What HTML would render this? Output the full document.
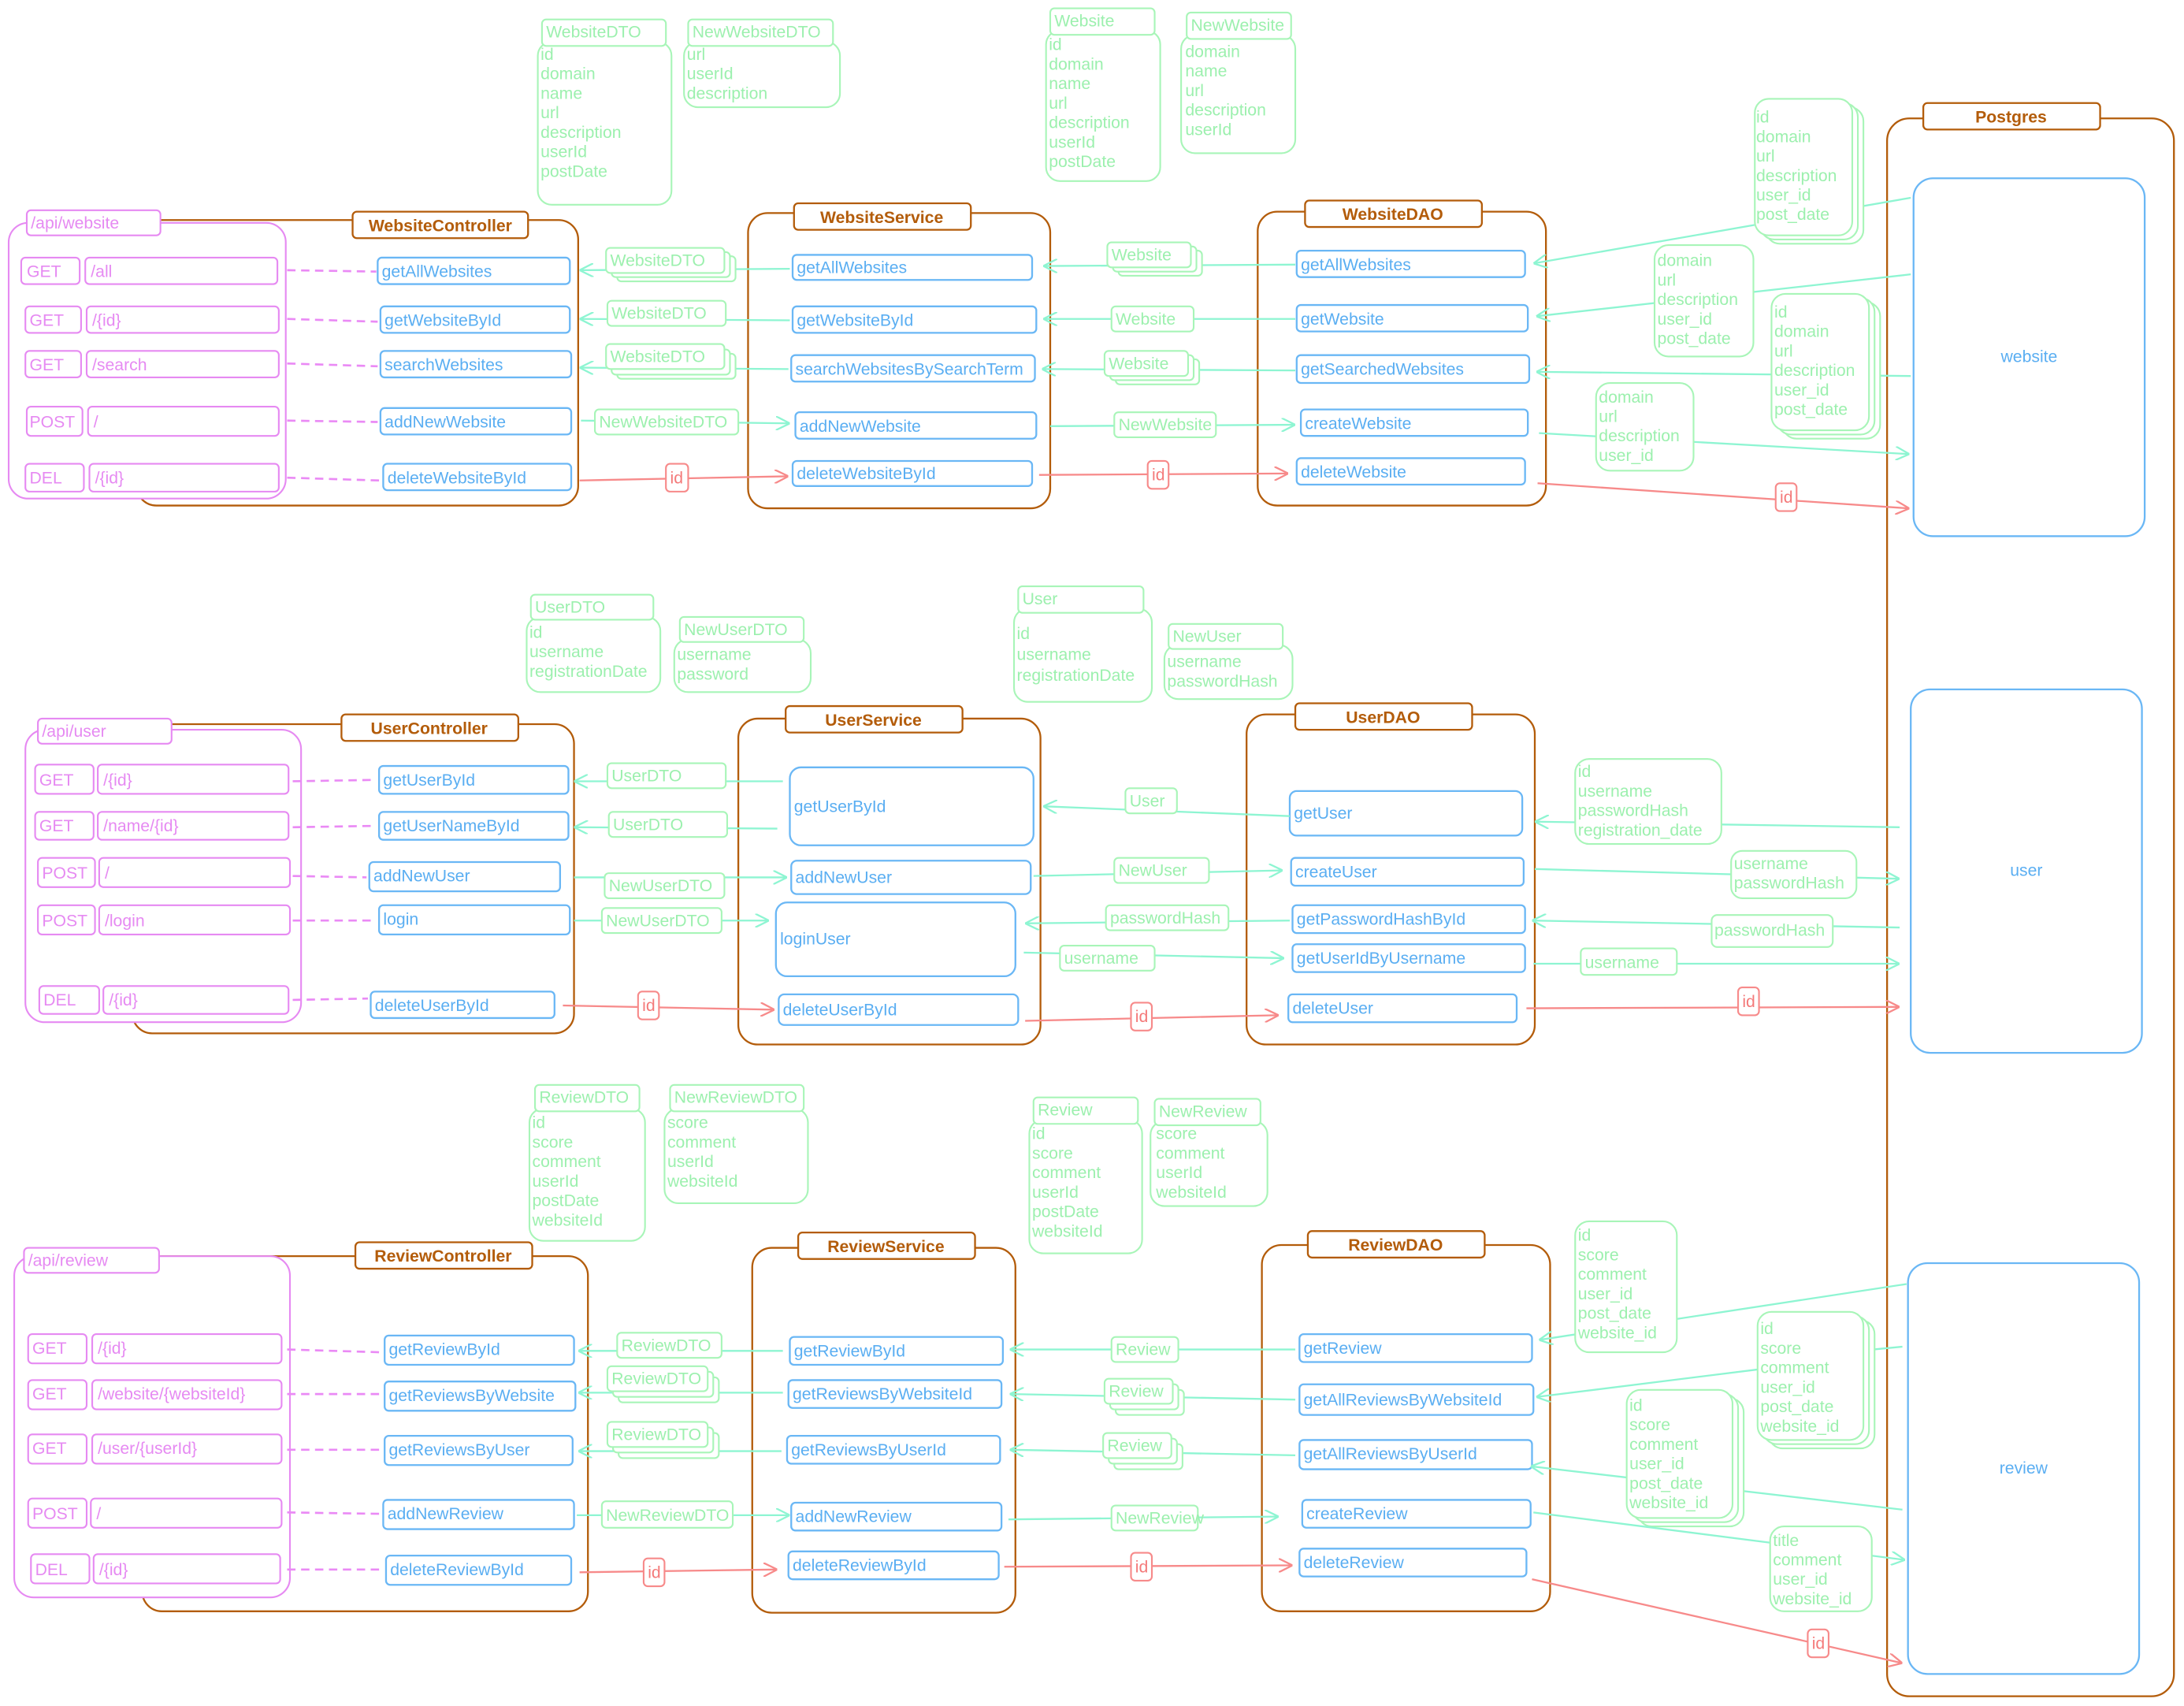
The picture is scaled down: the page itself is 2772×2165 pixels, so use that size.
<!DOCTYPE html>
<html><head><meta charset="utf-8"><style>
html,body{margin:0;padding:0;background:#fff}
svg{display:block}
text{font-family:"Liberation Sans Narrow","Liberation Sans",sans-serif;font-size:12px}
.o{stroke:#b35c0a;fill:none;stroke-width:1.3}
.ol{stroke:#b35c0a;fill:#fff;stroke-width:1.3}
.ot{fill:#b35c0a;font-weight:bold;text-anchor:middle}
.p{stroke:#e68af2;fill:none;stroke-width:1.2}
.pf{stroke:#e68af2;fill:#fff;stroke-width:1.2}
.pt{fill:#e68af2}
.b{stroke:#6ab7f5;fill:#fff;stroke-width:1.3}
.bt{fill:#5aaef2}
.g{stroke:#a8f5b8;fill:#fff;stroke-width:1.2}
.gt{fill:#9cf0ae}
.t{stroke:#8ef5d2;stroke-width:1.3;fill:none}
.r{stroke:#f78a8a;stroke-width:1.3;fill:none}
.rf{stroke:#f78a8a;fill:#fff;stroke-width:1.2}
.rt{fill:#f47a7a}
.d{stroke:#ea8af5;stroke-width:1.5;stroke-dasharray:6 4;fill:none}
</style></head><body>
<svg width="2772" height="2165" viewBox="0 0 1568 1225" xmlns="http://www.w3.org/2000/svg">
<defs>
<marker id="at" viewBox="0 0 10 10" refX="9" refY="5" markerWidth="10" markerHeight="10" markerUnits="userSpaceOnUse" orient="auto"><path d="M0,0 L10,5 L0,10" fill="none" stroke="#8ef5d2" stroke-width="1.3"/></marker>
<marker id="ar" viewBox="0 0 10 10" refX="9" refY="5" markerWidth="10" markerHeight="10" markerUnits="userSpaceOnUse" orient="auto"><path d="M0,0 L10,5 L0,10" fill="none" stroke="#f78a8a" stroke-width="1.3"/></marker>
</defs>

<!-- ============ WEBSITE DATA MODELS ============ -->
<rect class="g" x="386" y="30" width="96" height="117" rx="10"/>
<rect class="g" x="389" y="14" width="89" height="19" rx="3"/><text class="gt" x="392" y="27">WebsiteDTO</text>
<g class="gt"><text x="388" y="43">id</text><text x="388" y="57">domain</text><text x="388" y="71">name</text><text x="388" y="85">url</text><text x="388" y="99">description</text><text x="388" y="113">userId</text><text x="388" y="127">postDate</text></g>
<rect class="g" x="491" y="30" width="112" height="47" rx="10"/>
<rect class="g" x="494" y="14" width="104" height="19" rx="3"/><text class="gt" x="497" y="27">NewWebsiteDTO</text>
<g class="gt"><text x="493" y="43">url</text><text x="493" y="57">userId</text><text x="493" y="71">description</text></g>

<rect class="g" x="751" y="22" width="82" height="108" rx="10"/>
<rect class="g" x="754" y="6" width="75" height="19" rx="3"/><text class="gt" x="757" y="19">Website</text>
<g class="gt"><text x="753" y="36">id</text><text x="753" y="50">domain</text><text x="753" y="64">name</text><text x="753" y="78">url</text><text x="753" y="92">description</text><text x="753" y="106">userId</text><text x="753" y="120">postDate</text></g>
<rect class="g" x="848" y="25" width="82" height="85" rx="10"/>
<rect class="g" x="852" y="9" width="75" height="19" rx="3"/><text class="gt" x="855" y="22">NewWebsite</text>
<g class="gt"><text x="851" y="41">domain</text><text x="851" y="55">name</text><text x="851" y="69">url</text><text x="851" y="83">description</text><text x="851" y="97">userId</text></g>

<!-- ============ WEBSITE CONTROLLER ============ -->
<rect class="o" x="98" y="158" width="317" height="205" rx="14"/>
<rect class="ol" x="253" y="152" width="126" height="19" rx="3"/><text class="ot" x="316" y="166">WebsiteController</text>
<rect class="pf" x="6" y="160" width="199" height="198" rx="14"/>
<rect class="pf" x="19" y="151" width="96" height="18" rx="3"/><text class="pt" x="22" y="164">/api/website</text>
<g>
<rect class="p" x="15" y="185" width="42" height="19" rx="3"/><text class="pt" x="19" y="199">GET</text>
<rect class="p" x="61" y="185" width="138" height="19" rx="3"/><text class="pt" x="65" y="199">/all</text>
<rect class="p" x="18" y="220" width="40" height="19" rx="3"/><text class="pt" x="21" y="234">GET</text>
<rect class="p" x="62" y="220" width="138" height="19" rx="3"/><text class="pt" x="66" y="234">/{id}</text>
<rect class="p" x="18" y="252" width="40" height="19" rx="3"/><text class="pt" x="21" y="266">GET</text>
<rect class="p" x="62" y="252" width="138" height="19" rx="3"/><text class="pt" x="66" y="266">/search</text>
<rect class="p" x="19" y="292" width="40" height="21" rx="3"/><text class="pt" x="21" y="307">POST</text>
<rect class="p" x="63" y="292" width="137" height="21" rx="3"/><text class="pt" x="67" y="307">/</text>
<rect class="p" x="18" y="333" width="42" height="20" rx="3"/><text class="pt" x="21" y="347">DEL</text>
<rect class="p" x="64" y="333" width="136" height="20" rx="3"/><text class="pt" x="68" y="347">/{id}</text>
</g>
<path class="d" d="M206,194 L270,195 M206,229 L271,231 M206,261 L271,263 M206,302 L271,303 M206,343 L272,345"/>
<rect class="b" x="271" y="185" width="138" height="19" rx="3"/><text class="bt" x="274" y="199">getAllWebsites</text>
<rect class="b" x="273" y="220" width="136" height="19" rx="3"/><text class="bt" x="276" y="234">getWebsiteById</text>
<rect class="b" x="273" y="252" width="137" height="19" rx="3"/><text class="bt" x="276" y="266">searchWebsites</text>
<rect class="b" x="273" y="293" width="137" height="19" rx="3"/><text class="bt" x="276" y="307">addNewWebsite</text>
<rect class="b" x="275" y="333" width="135" height="19" rx="3"/><text class="bt" x="278" y="347">deleteWebsiteById</text>

<!-- ============ WEBSITE SERVICE ============ -->
<rect class="o" x="537" y="153" width="217" height="212" rx="14"/>
<rect class="ol" x="570" y="146" width="127" height="19" rx="3"/><text class="ot" x="633" y="160">WebsiteService</text>
<rect class="b" x="569" y="183" width="172" height="18" rx="3"/><text class="bt" x="572" y="196">getAllWebsites</text>
<rect class="b" x="569" y="220" width="175" height="19" rx="3"/><text class="bt" x="572" y="234">getWebsiteById</text>
<rect class="b" x="568" y="255" width="175" height="19" rx="3"/><text class="bt" x="571" y="269">searchWebsitesBySearchTerm</text>
<rect class="b" x="571" y="296" width="173" height="19" rx="3"/><text class="bt" x="574" y="310">addNewWebsite</text>
<rect class="b" x="569" y="331" width="172" height="18" rx="3"/><text class="bt" x="572" y="344">deleteWebsiteById</text>

<path class="t" d="M567,193 L417,194" marker-end="url(#at)"/>
<rect class="g" x="443" y="184" width="85" height="18" rx="3"/><rect class="g" x="439" y="181" width="85" height="18" rx="3"/>
<rect class="g" x="435" y="178" width="85" height="18" rx="3"/><text class="gt" x="438" y="191">WebsiteDTO</text>
<path class="t" d="M567,230 L417,229" marker-end="url(#at)"/>
<rect class="g" x="436" y="216" width="85" height="18" rx="3"/><text class="gt" x="439" y="229">WebsiteDTO</text>
<path class="t" d="M566,265 L417,264" marker-end="url(#at)"/>
<rect class="g" x="443" y="254" width="85" height="18" rx="3"/><rect class="g" x="439" y="251" width="85" height="18" rx="3"/>
<rect class="g" x="435" y="247" width="85" height="18" rx="3"/><text class="gt" x="438" y="260">WebsiteDTO</text>
<path class="t" d="M417,302 L566,304" marker-end="url(#at)"/>
<rect class="g" x="427" y="294" width="103" height="18" rx="3"/><text class="gt" x="430" y="307">NewWebsiteDTO</text>
<path class="r" d="M416,345 L565,342" marker-end="url(#ar)"/>
<rect class="rf" x="478" y="333" width="16" height="20" rx="3"/><text class="rt" x="481" y="347">id</text>

<!-- ============ WEBSITE DAO ============ -->
<rect class="o" x="903" y="152" width="207" height="211" rx="14"/>
<rect class="ol" x="937" y="144" width="127" height="19" rx="3"/><text class="ot" x="1000" y="158">WebsiteDAO</text>
<rect class="b" x="931" y="180" width="164" height="19" rx="3"/><text class="bt" x="934" y="194">getAllWebsites</text>
<rect class="b" x="931" y="219" width="166" height="19" rx="3"/><text class="bt" x="934" y="233">getWebsite</text>
<rect class="b" x="931" y="255" width="167" height="20" rx="3"/><text class="bt" x="934" y="269">getSearchedWebsites</text>
<rect class="b" x="934" y="294" width="163" height="19" rx="3"/><text class="bt" x="937" y="308">createWebsite</text>
<rect class="b" x="931" y="329" width="164" height="19" rx="3"/><text class="bt" x="934" y="343">deleteWebsite</text>

<path class="t" d="M930,190 L750,191" marker-end="url(#at)"/>
<rect class="g" x="803" y="180" width="60" height="18" rx="3"/><rect class="g" x="799" y="177" width="60" height="18" rx="3"/>
<rect class="g" x="795" y="174" width="60" height="18" rx="3"/><text class="gt" x="798" y="187">Website</text>
<path class="t" d="M930,229 L750,229" marker-end="url(#at)"/>
<rect class="g" x="798" y="220" width="59" height="18" rx="3"/><text class="gt" x="801" y="233">Website</text>
<path class="t" d="M930,266 L749,265" marker-end="url(#at)"/>
<rect class="g" x="801" y="258" width="60" height="18" rx="3"/><rect class="g" x="797" y="255" width="60" height="18" rx="3"/>
<rect class="g" x="793" y="252" width="60" height="18" rx="3"/><text class="gt" x="796" y="265">Website</text>
<path class="t" d="M754,306 L929,305" marker-end="url(#at)"/>
<rect class="g" x="800" y="296" width="73" height="18" rx="3"/><text class="gt" x="803" y="309">NewWebsite</text>
<path class="r" d="M746,341 L924,340" marker-end="url(#ar)"/>
<rect class="rf" x="824" y="331" width="15" height="20" rx="3"/><text class="rt" x="827" y="345">id</text>

<!-- ============ POSTGRES ============ -->
<rect class="o" x="1355" y="85" width="206" height="1133" rx="16"/>
<rect class="ol" x="1381" y="74" width="127" height="19" rx="3"/><text class="ot" x="1444" y="88">Postgres</text>
<rect class="b" x="1374" y="128" width="166" height="257" rx="14"/><text class="bt" x="1457" y="260" text-anchor="middle">website</text>
<rect class="b" x="1372" y="495" width="166" height="261" rx="14"/><text class="bt" x="1455" y="629" text-anchor="middle">user</text>
<rect class="b" x="1370" y="907" width="166" height="295" rx="14"/><text class="bt" x="1453" y="1058" text-anchor="middle">review</text>

<!-- website db links -->
<path class="t" d="M1372,142 L1102,189" marker-end="url(#at)"/>
<rect class="g" x="1268" y="77" width="70" height="98" rx="10"/><rect class="g" x="1264" y="74" width="70" height="98" rx="10"/>
<rect class="g" x="1260" y="71" width="70" height="98" rx="10"/>
<g class="gt"><text x="1261" y="88">id</text><text x="1261" y="102">domain</text><text x="1261" y="116">url</text><text x="1261" y="130">description</text><text x="1261" y="144">user_id</text><text x="1261" y="158">post_date</text></g>
<path class="t" d="M1372,197 L1104,227" marker-end="url(#at)"/>
<rect class="g" x="1188" y="176" width="71" height="80" rx="10"/>
<g class="gt"><text x="1190" y="191">domain</text><text x="1190" y="205">url</text><text x="1190" y="219">description</text><text x="1190" y="233">user_id</text><text x="1190" y="247">post_date</text></g>
<path class="t" d="M1372,270 L1104,267" marker-end="url(#at)"/>
<rect class="g" x="1280" y="217" width="70" height="98" rx="10"/><rect class="g" x="1276" y="214" width="70" height="98" rx="10"/>
<rect class="g" x="1272" y="211" width="70" height="98" rx="10"/>
<g class="gt"><text x="1274" y="228">id</text><text x="1274" y="242">domain</text><text x="1274" y="256">url</text><text x="1274" y="270">description</text><text x="1274" y="284">user_id</text><text x="1274" y="298">post_date</text></g>
<path class="t" d="M1105,311 L1370,326" marker-end="url(#at)"/>
<rect class="g" x="1146" y="275" width="70" height="63" rx="10"/>
<g class="gt"><text x="1148" y="289">domain</text><text x="1148" y="303">url</text><text x="1148" y="317">description</text><text x="1148" y="331">user_id</text></g>
<path class="r" d="M1104,347 L1370,365" marker-end="url(#ar)"/>
<rect class="rf" x="1275" y="347" width="15" height="20" rx="3"/><text class="rt" x="1278" y="361">id</text>

<!-- ============ USER DATA MODELS ============ -->
<rect class="g" x="378" y="443" width="96" height="54" rx="10"/>
<rect class="g" x="381" y="427" width="88" height="18" rx="3"/><text class="gt" x="384" y="440">UserDTO</text>
<g class="gt"><text x="380" y="458">id</text><text x="380" y="472">username</text><text x="380" y="486">registrationDate</text></g>
<rect class="g" x="484" y="459" width="98" height="38" rx="10"/>
<rect class="g" x="488" y="443" width="89" height="18" rx="3"/><text class="gt" x="491" y="456">NewUserDTO</text>
<g class="gt"><text x="486" y="474">username</text><text x="486" y="488">password</text></g>
<rect class="g" x="728" y="437" width="99" height="67" rx="10"/>
<rect class="g" x="731" y="421" width="90" height="19" rx="3"/><text class="gt" x="734" y="434">User</text>
<g class="gt"><text x="730" y="459">id</text><text x="730" y="474">username</text><text x="730" y="489">registrationDate</text></g>
<rect class="g" x="836" y="463" width="92" height="39" rx="10"/>
<rect class="g" x="839" y="448" width="82" height="18" rx="3"/><text class="gt" x="842" y="461">NewUser</text>
<g class="gt"><text x="838" y="479">username</text><text x="838" y="493">passwordHash</text></g>

<!-- ============ USER CONTROLLER ============ -->
<rect class="o" x="95" y="520" width="317" height="222" rx="14"/>
<rect class="ol" x="245" y="513" width="127" height="19" rx="3"/><text class="ot" x="308" y="527">UserController</text>
<rect class="pf" x="18" y="524" width="198" height="210" rx="14"/>
<rect class="pf" x="27" y="516" width="96" height="18" rx="3"/><text class="pt" x="30" y="529">/api/user</text>
<rect class="p" x="25" y="549" width="42" height="21" rx="3"/><text class="pt" x="28" y="564">GET</text>
<rect class="p" x="70" y="549" width="137" height="21" rx="3"/><text class="pt" x="74" y="564">/{id}</text>
<rect class="p" x="25" y="583" width="42" height="20" rx="3"/><text class="pt" x="28" y="597">GET</text>
<rect class="p" x="70" y="583" width="137" height="20" rx="3"/><text class="pt" x="74" y="597">/name/{id}</text>
<rect class="p" x="27" y="616" width="41" height="21" rx="3"/><text class="pt" x="30" y="631">POST</text>
<rect class="p" x="71" y="616" width="137" height="21" rx="3"/><text class="pt" x="75" y="631">/</text>
<rect class="p" x="27" y="650" width="41" height="21" rx="3"/><text class="pt" x="30" y="665">POST</text>
<rect class="p" x="71" y="650" width="137" height="21" rx="3"/><text class="pt" x="75" y="665">/login</text>
<rect class="p" x="28" y="708" width="43" height="20" rx="3"/><text class="pt" x="31" y="722">DEL</text>
<rect class="p" x="74" y="708" width="133" height="20" rx="3"/><text class="pt" x="78" y="722">/{id}</text>
<path class="d" d="M210,561 L270,560 M210,594 L270,593 M210,629 L263,630 M210,661 L270,661 M210,718 L264,717"/>
<rect class="b" x="272" y="550" width="136" height="20" rx="3"/><text class="bt" x="275" y="564">getUserById</text>
<rect class="b" x="272" y="583" width="136" height="20" rx="3"/><text class="bt" x="275" y="597">getUserNameById</text>
<rect class="b" x="265" y="619" width="137" height="21" rx="3"/><text class="bt" x="268" y="633">addNewUser</text>
<rect class="b" x="272" y="650" width="137" height="21" rx="3"/><text class="bt" x="275" y="664">login</text>
<rect class="b" x="266" y="712" width="132" height="19" rx="3"/><text class="bt" x="269" y="726">deleteUserById</text>

<!-- ============ USER SERVICE ============ -->
<rect class="o" x="530" y="516" width="217" height="234" rx="14"/>
<rect class="ol" x="564" y="507" width="127" height="19" rx="3"/><text class="ot" x="627" y="521">UserService</text>
<rect class="b" x="567" y="551" width="175" height="56" rx="8"/><text class="bt" x="570" y="583">getUserById</text>
<rect class="b" x="568" y="618" width="172" height="24" rx="4"/><text class="bt" x="571" y="634">addNewUser</text>
<rect class="b" x="557" y="648" width="172" height="53" rx="8"/><text class="bt" x="560" y="678">loginUser</text>
<rect class="b" x="559" y="714" width="172" height="22" rx="4"/><text class="bt" x="562" y="729">deleteUserById</text>

<path class="t" d="M562,561 L413,561" marker-end="url(#at)"/>
<rect class="g" x="436" y="548" width="85" height="18" rx="3"/><text class="gt" x="439" y="561">UserDTO</text>
<path class="t" d="M558,595 L413,594" marker-end="url(#at)"/>
<rect class="g" x="437" y="583" width="85" height="18" rx="3"/><text class="gt" x="440" y="596">UserDTO</text>
<path class="t" d="M412,630 L564,630" marker-end="url(#at)"/>
<rect class="g" x="434" y="627" width="86" height="18" rx="3"/><text class="gt" x="437" y="640">NewUserDTO</text>
<path class="t" d="M412,661 L551,661" marker-end="url(#at)"/>
<rect class="g" x="432" y="652" width="86" height="18" rx="3"/><text class="gt" x="435" y="665">NewUserDTO</text>
<path class="r" d="M404,722 L555,725" marker-end="url(#ar)"/>
<rect class="rf" x="458" y="712" width="15" height="20" rx="3"/><text class="rt" x="461" y="726">id</text>

<!-- ============ USER DAO ============ -->
<rect class="o" x="895" y="513" width="207" height="237" rx="14"/>
<rect class="ol" x="930" y="505" width="127" height="19" rx="3"/><text class="ot" x="993" y="519">UserDAO</text>
<rect class="b" x="926" y="568" width="167" height="32" rx="5"/><text class="bt" x="929" y="588">getUser</text>
<rect class="b" x="927" y="616" width="167" height="20" rx="3"/><text class="bt" x="930" y="630">createUser</text>
<rect class="b" x="928" y="650" width="167" height="20" rx="3"/><text class="bt" x="931" y="664">getPasswordHashById</text>
<rect class="b" x="928" y="678" width="167" height="20" rx="3"/><text class="bt" x="931" y="692">getUserIdByUsername</text>
<rect class="b" x="925" y="714" width="164" height="20" rx="3"/><text class="bt" x="928" y="728">deleteUser</text>

<path class="t" d="M926,586 L750,579" marker-end="url(#at)"/>
<rect class="g" x="808" y="566" width="37" height="18" rx="3"/><text class="gt" x="811" y="579">User</text>
<path class="t" d="M742,629 L920,625" marker-end="url(#at)"/>
<rect class="g" x="800" y="616" width="68" height="18" rx="3"/><text class="gt" x="803" y="629">NewUser</text>
<path class="t" d="M926,661 L737,663" marker-end="url(#at)"/>
<rect class="g" x="794" y="650" width="88" height="18" rx="3"/><text class="gt" x="797" y="663">passwordHash</text>
<path class="t" d="M735,684 L921,688" marker-end="url(#at)"/>
<rect class="g" x="761" y="679" width="68" height="18" rx="3"/><text class="gt" x="764" y="692">username</text>
<path class="r" d="M736,733 L917,729" marker-end="url(#ar)"/>
<rect class="rf" x="812" y="720" width="15" height="20" rx="3"/><text class="rt" x="815" y="734">id</text>

<!-- user db links -->
<path class="t" d="M1364,594 L1103,590" marker-end="url(#at)"/>
<rect class="g" x="1131" y="545" width="105" height="61" rx="10"/>
<g class="gt"><text x="1133" y="558">id</text><text x="1133" y="572">username</text><text x="1133" y="586">passwordHash</text><text x="1133" y="600">registration_date</text></g>
<path class="t" d="M1102,624 L1363,631" marker-end="url(#at)"/>
<rect class="g" x="1243" y="611" width="90" height="34" rx="8"/>
<g class="gt"><text x="1245" y="624">username</text><text x="1245" y="638">passwordHash</text></g>
<path class="t" d="M1364,666 L1101,661" marker-end="url(#at)"/>
<rect class="g" x="1229" y="657" width="87" height="23" rx="4"/><text class="gt" x="1231" y="672">passwordHash</text>
<path class="t" d="M1101,692 L1363,692" marker-end="url(#at)"/>
<rect class="g" x="1135" y="681" width="69" height="19" rx="3"/><text class="gt" x="1138" y="695">username</text>
<path class="r" d="M1096,724 L1363,723" marker-end="url(#ar)"/>
<rect class="rf" x="1248" y="709" width="15" height="20" rx="3"/><text class="rt" x="1251" y="723">id</text>

<!-- ============ REVIEW DATA MODELS ============ -->
<rect class="g" x="380" y="796" width="83" height="95" rx="10"/>
<rect class="g" x="384" y="779" width="75" height="19" rx="3"/><text class="gt" x="387" y="792">ReviewDTO</text>
<g class="gt"><text x="382" y="810">id</text><text x="382" y="824">score</text><text x="382" y="838">comment</text><text x="382" y="852">userId</text><text x="382" y="866">postDate</text><text x="382" y="880">websiteId</text></g>
<rect class="g" x="477" y="796" width="103" height="68" rx="10"/>
<rect class="g" x="481" y="779" width="96" height="19" rx="3"/><text class="gt" x="484" y="792">NewReviewDTO</text>
<g class="gt"><text x="479" y="810">score</text><text x="479" y="824">comment</text><text x="479" y="838">userId</text><text x="479" y="852">websiteId</text></g>
<rect class="g" x="739" y="804" width="81" height="96" rx="10"/>
<rect class="g" x="742" y="788" width="75" height="19" rx="3"/><text class="gt" x="745" y="801">Review</text>
<g class="gt"><text x="741" y="818">id</text><text x="741" y="832">score</text><text x="741" y="846">comment</text><text x="741" y="860">userId</text><text x="741" y="874">postDate</text><text x="741" y="888">websiteId</text></g>
<rect class="g" x="826" y="805" width="84" height="61" rx="10"/>
<rect class="g" x="829" y="789" width="76" height="19" rx="3"/><text class="gt" x="832" y="802">NewReview</text>
<g class="gt"><text x="830" y="818">score</text><text x="830" y="832">comment</text><text x="830" y="846">userId</text><text x="830" y="860">websiteId</text></g>

<!-- ============ REVIEW CONTROLLER ============ -->
<rect class="o" x="102" y="902" width="320" height="255" rx="14"/>
<rect class="ol" x="255" y="892" width="127" height="19" rx="3"/><text class="ot" x="318" y="906">ReviewController</text>
<rect class="pf" x="10" y="902" width="198" height="245" rx="14"/>
<rect class="pf" x="17" y="896" width="97" height="18" rx="3"/><text class="pt" x="20" y="909">/api/review</text>
<rect class="p" x="20" y="958" width="42" height="21" rx="3"/><text class="pt" x="23" y="972">GET</text>
<rect class="p" x="66" y="958" width="136" height="21" rx="3"/><text class="pt" x="70" y="972">/{id}</text>
<rect class="p" x="20" y="991" width="42" height="21" rx="3"/><text class="pt" x="23" y="1005">GET</text>
<rect class="p" x="66" y="991" width="136" height="21" rx="3"/><text class="pt" x="70" y="1005">/website/{websiteId}</text>
<rect class="p" x="20" y="1030" width="42" height="21" rx="3"/><text class="pt" x="23" y="1044">GET</text>
<rect class="p" x="66" y="1030" width="136" height="21" rx="3"/><text class="pt" x="70" y="1044">/user/{userId}</text>
<rect class="p" x="20" y="1076" width="42" height="21" rx="3"/><text class="pt" x="23" y="1091">POST</text>
<rect class="p" x="65" y="1076" width="137" height="21" rx="3"/><text class="pt" x="69" y="1091">/</text>
<rect class="p" x="22" y="1116" width="42" height="21" rx="3"/><text class="pt" x="25" y="1131">DEL</text>
<rect class="p" x="67" y="1116" width="134" height="21" rx="3"/><text class="pt" x="71" y="1131">/{id}</text>
<path class="d" d="M206,969 L273,971 M206,1001 L274,1001 M206,1041 L274,1041 M206,1086 L273,1087 M206,1127 L275,1127"/>
<rect class="b" x="276" y="959" width="136" height="21" rx="3"/><text class="bt" x="279" y="973">getReviewById</text>
<rect class="b" x="276" y="992" width="137" height="21" rx="3"/><text class="bt" x="279" y="1006">getReviewsByWebsite</text>
<rect class="b" x="276" y="1031" width="135" height="21" rx="3"/><text class="bt" x="279" y="1045">getReviewsByUser</text>
<rect class="b" x="275" y="1077" width="137" height="21" rx="3"/><text class="bt" x="278" y="1091">addNewReview</text>
<rect class="b" x="277" y="1117" width="133" height="21" rx="3"/><text class="bt" x="280" y="1131">deleteReviewById</text>

<!-- ============ REVIEW SERVICE ============ -->
<rect class="o" x="540" y="896" width="189" height="262" rx="14"/>
<rect class="ol" x="573" y="885" width="127" height="19" rx="3"/><text class="ot" x="636" y="899">ReviewService</text>
<rect class="b" x="567" y="960" width="153" height="20" rx="3"/><text class="bt" x="570" y="974">getReviewById</text>
<rect class="b" x="566" y="991" width="153" height="20" rx="3"/><text class="bt" x="569" y="1005">getReviewsByWebsiteId</text>
<rect class="b" x="565" y="1031" width="153" height="20" rx="3"/><text class="bt" x="568" y="1045">getReviewsByUserId</text>
<rect class="b" x="568" y="1079" width="151" height="20" rx="3"/><text class="bt" x="571" y="1093">addNewReview</text>
<rect class="b" x="566" y="1114" width="151" height="20" rx="3"/><text class="bt" x="569" y="1128">deleteReviewById</text>

<path class="t" d="M562,970 L416,970" marker-end="url(#at)"/>
<rect class="g" x="443" y="957" width="75" height="18" rx="3"/><text class="gt" x="446" y="970">ReviewDTO</text>
<path class="t" d="M562,1000 L416,1000" marker-end="url(#at)"/>
<rect class="g" x="444" y="989" width="72" height="18" rx="3"/><rect class="g" x="440" y="985" width="72" height="18" rx="3"/>
<rect class="g" x="436" y="981" width="72" height="18" rx="3"/><text class="gt" x="439" y="994">ReviewDTO</text>
<path class="t" d="M561,1042 L416,1042" marker-end="url(#at)"/>
<rect class="g" x="444" y="1029" width="72" height="18" rx="3"/><rect class="g" x="440" y="1025" width="72" height="18" rx="3"/>
<rect class="g" x="436" y="1021" width="72" height="18" rx="3"/><text class="gt" x="439" y="1034">ReviewDTO</text>
<path class="t" d="M414,1088 L566,1088" marker-end="url(#at)"/>
<rect class="g" x="432" y="1078" width="94" height="19" rx="3"/><text class="gt" x="435" y="1092">NewReviewDTO</text>
<path class="r" d="M416,1129 L557,1127" marker-end="url(#ar)"/>
<rect class="rf" x="462" y="1119" width="15" height="20" rx="3"/><text class="rt" x="465" y="1133">id</text>

<!-- ============ REVIEW DAO ============ -->
<rect class="o" x="906" y="894" width="207" height="263" rx="14"/>
<rect class="ol" x="939" y="884" width="127" height="19" rx="3"/><text class="ot" x="1002" y="898">ReviewDAO</text>
<rect class="b" x="933" y="958" width="167" height="20" rx="3"/><text class="bt" x="936" y="972">getReview</text>
<rect class="b" x="933" y="994" width="168" height="22" rx="3"/><text class="bt" x="936" y="1009">getAllReviewsByWebsiteId</text>
<rect class="b" x="933" y="1034" width="167" height="21" rx="3"/><text class="bt" x="936" y="1048">getAllReviewsByUserId</text>
<rect class="b" x="935" y="1077" width="164" height="20" rx="3"/><text class="bt" x="938" y="1091">createReview</text>
<rect class="b" x="933" y="1112" width="163" height="20" rx="3"/><text class="bt" x="936" y="1126">deleteReview</text>

<path class="t" d="M930,969 L726,969" marker-end="url(#at)"/>
<rect class="g" x="798" y="960" width="48" height="18" rx="3"/><text class="gt" x="801" y="973">Review</text>
<path class="t" d="M930,1005 L726,1001" marker-end="url(#at)"/>
<rect class="g" x="801" y="998" width="49" height="18" rx="3"/><rect class="g" x="797" y="994" width="49" height="18" rx="3"/>
<rect class="g" x="793" y="990" width="49" height="18" rx="3"/><text class="gt" x="796" y="1003">Review</text>
<path class="t" d="M930,1045 L726,1041" marker-end="url(#at)"/>
<rect class="g" x="800" y="1037" width="49" height="18" rx="3"/><rect class="g" x="796" y="1033" width="49" height="18" rx="3"/>
<rect class="g" x="792" y="1029" width="49" height="18" rx="3"/><text class="gt" x="795" y="1042">Review</text>
<path class="t" d="M724,1091 L917,1089" marker-end="url(#at)"/>
<rect class="g" x="798" y="1081" width="62" height="18" rx="3"/><text class="gt" x="801" y="1094">NewReview</text>
<path class="r" d="M721,1125 L927,1124" marker-end="url(#ar)"/>
<rect class="rf" x="812" y="1115" width="15" height="20" rx="3"/><text class="rt" x="815" y="1129">id</text>

<!-- review db links -->
<path class="t" d="M1369,922 L1106,962" marker-end="url(#at)"/>
<rect class="g" x="1131" y="877" width="73" height="94" rx="10"/>
<g class="gt"><text x="1133" y="891">id</text><text x="1133" y="905">score</text><text x="1133" y="919">comment</text><text x="1133" y="933">user_id</text><text x="1133" y="947">post_date</text><text x="1133" y="961">website_id</text></g>
<path class="t" d="M1345,969 L1366,967"/>
<path class="t" d="M1265,983 L1104,1003" marker-end="url(#at)"/>
<rect class="g" x="1270" y="948" width="76" height="92" rx="10"/><rect class="g" x="1266" y="945" width="76" height="92" rx="10"/>
<rect class="g" x="1262" y="942" width="76" height="92" rx="10"/>
<g class="gt"><text x="1264" y="958">id</text><text x="1264" y="972">score</text><text x="1264" y="986">comment</text><text x="1264" y="1000">user_id</text><text x="1264" y="1014">post_date</text><text x="1264" y="1028">website_id</text></g>
<path class="t" d="M1366,1084 L1100,1053" marker-end="url(#at)"/>
<rect class="g" x="1176" y="1004" width="76" height="92" rx="10"/><rect class="g" x="1172" y="1001" width="76" height="92" rx="10"/>
<rect class="g" x="1168" y="998" width="76" height="92" rx="10"/>
<g class="gt"><text x="1170" y="1013">id</text><text x="1170" y="1027">score</text><text x="1170" y="1041">comment</text><text x="1170" y="1055">user_id</text><text x="1170" y="1069">post_date</text><text x="1170" y="1083">website_id</text></g>
<path class="t" d="M1101,1086 L1367,1120" marker-end="url(#at)"/>
<rect class="g" x="1271" y="1096" width="73" height="61" rx="10"/>
<g class="gt"><text x="1273" y="1110">title</text><text x="1273" y="1124">comment</text><text x="1273" y="1138">user_id</text><text x="1273" y="1152">website_id</text></g>
<path class="r" d="M1100,1134 L1365,1194" marker-end="url(#ar)"/>
<rect class="rf" x="1298" y="1170" width="15" height="20" rx="3"/><text class="rt" x="1301" y="1184">id</text>
</svg>
</body></html>
